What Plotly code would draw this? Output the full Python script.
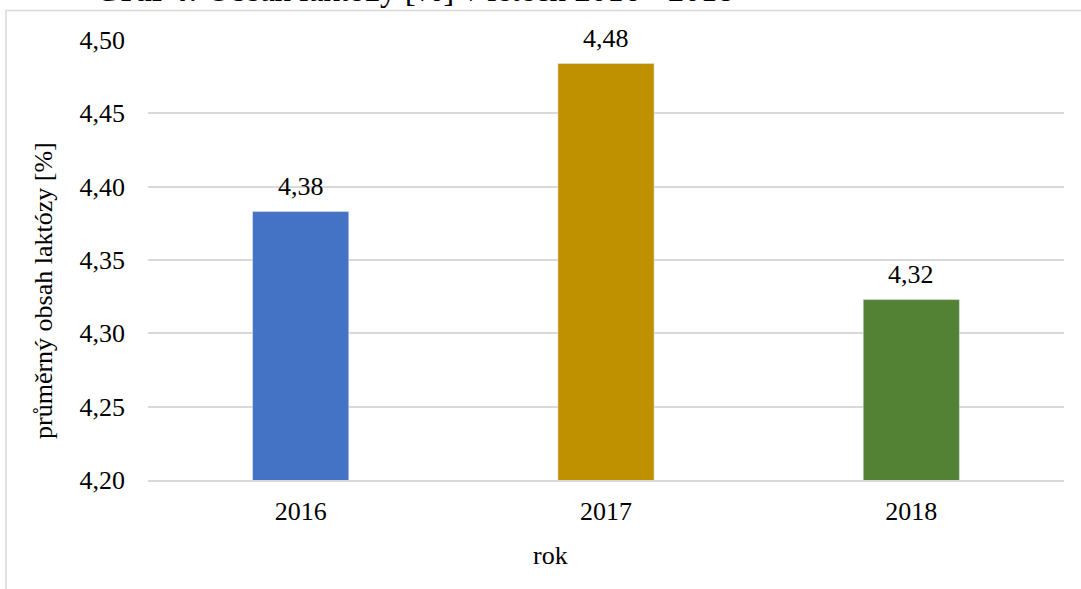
import plotly.graph_objects as go

categories = ["2016", "2017", "2018"]
values = [4.383, 4.484, 4.323]
labels = ["4,38", "4,48", "4,32"]
colors = ["#4472C4", "#BF9000", "#548235"]
y_ticks = [4.20, 4.25, 4.30, 4.35, 4.40, 4.45, 4.50]

FONT = "Liberation Serif, Times New Roman, serif"

fig = go.Figure()
fig.add_trace(go.Bar(
    x=categories, y=values, marker_color=colors, width=0.315,
    cliponaxis=False, showlegend=False,
))

annotations = [
    dict(x=i, y=v, text=t, xref="x", yref="y", showarrow=False,
         xanchor="center", yanchor="middle", yshift=25,
         font=dict(family=FONT, size=26, color="#000000"))
    for i, (v, t) in enumerate(zip(values, labels))
]
annotations += [
    dict(text="<b>Graf 4:</b> Obsah laktózy [%] v letech 2016 - 2018",
         xref="paper", yref="paper", x=(414 - 148) / 916, y=(480 - 10) / 440,
         xanchor="center", yanchor="bottom", showarrow=False,
         font=dict(family=FONT, size=33, color="#000000")),
    dict(text="rok", xref="paper", yref="paper",
         x=(550 - 148) / 916, y=(480 - 555) / 440,
         xanchor="center", yanchor="middle", showarrow=False,
         font=dict(family=FONT, size=26, color="#000000")),
    dict(text="průměrný obsah laktózy [%]", xref="paper", yref="paper",
         x=(43 - 148) / 916, y=(480 - 291) / 440, textangle=-90,
         xanchor="center", yanchor="middle", showarrow=False,
         font=dict(family=FONT, size=26, color="#000000")),
]

fig.update_layout(
    width=1081, height=589,
    margin=dict(l=148, r=17, t=40, b=109),
    paper_bgcolor="white", plot_bgcolor="white",
    separators=", ",
    font=dict(family=FONT, size=26, color="#000000"),
    bargap=0.685,
    xaxis=dict(
        type="category", categoryorder="array", categoryarray=categories,
        showgrid=False, showline=True, linecolor="#D9D9D9", linewidth=2,
        ticks="", ticklabelstandoff=7,
        tickfont=dict(family=FONT, size=26, color="#000000"),
    ),
    yaxis=dict(
        range=[4.20, 4.50], tickvals=y_ticks, tickformat=".2f",
        showgrid=True, gridcolor="#D9D9D9", gridwidth=2,
        zeroline=False, showline=False, ticks="", ticklabelstandoff=22,
        tickfont=dict(family=FONT, size=26, color="#000000"),
    ),
    annotations=annotations,
    shapes=[
        dict(type="rect", xref="paper", yref="paper",
             x0=(6 - 148) / 916, x1=1.2, y0=-0.5, y1=(480 - 10.5) / 440,
             line=dict(color="#D9D9D9", width=1.5), fillcolor="rgba(0,0,0,0)",
             layer="below"),
    ],
)

fig.write_html("out.html")
